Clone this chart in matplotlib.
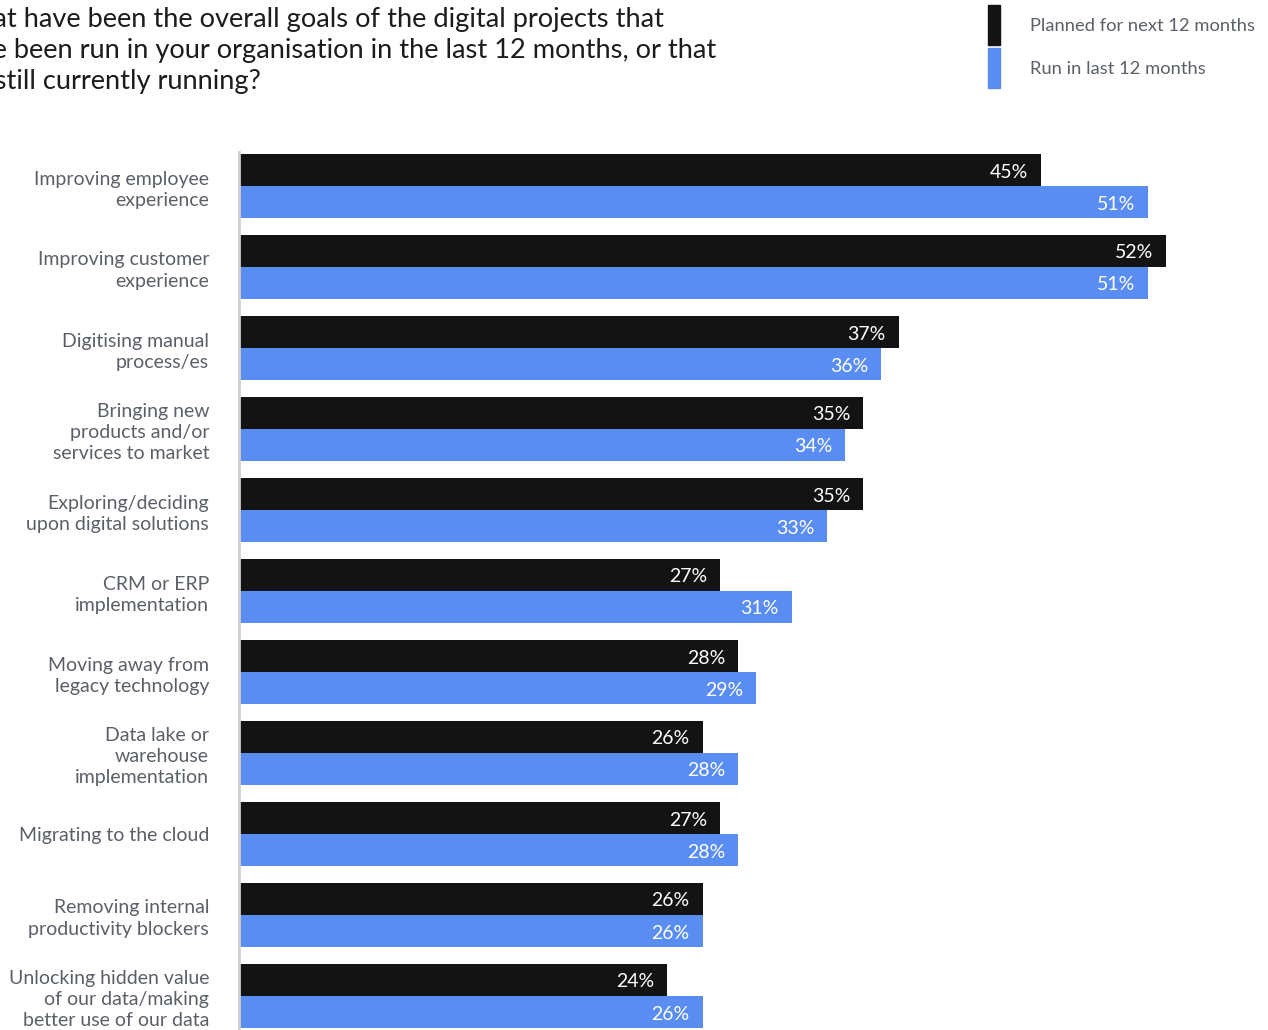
"""
Goals of digital projects: planned vs run, horizontal grouped bars
"""

import matplotlib.pyplot as plt
from matplotlib.patches import Rectangle

goals = [
    "Improving employee\nexperience",
    "Improving customer\nexperience",
    "Digitising manual\nprocess/es",
    "Bringing new\nproducts and/or\nservices to market",
    "Exploring/deciding\nupon digital solutions",
    "CRM or ERP\nimplementation",
    "Moving away from\nlegacy technology",
    "Data lake or\nwarehouse\nimplementation",
    "Migrating to the cloud",
    "Removing internal\nproductivity blockers",
    "Unlocking hidden value\nof our data/making\nbetter use of our data",
]
planned = [45, 52, 37, 35, 35, 27, 28, 26, 27, 26, 24]
run = [51, 51, 36, 34, 33, 31, 29, 28, 28, 26, 26]

series_names = ["Planned for next 12 months", "Run in last 12 months"]

title = (
    "What have been the overall goals of the digital projects that\n"
    "have been run in your organisation in the last 12 months, or that\n"
    "are still currently running?"
)

BLACK = "#141314"
BLUE = "#5a8df2"
LABEL_GREY = "#5b6068"

plt.rcParams["font.family"] = ["Lato", "DejaVu Sans"]

W, H = 1268, 1030
fig = plt.figure(figsize=(W / 100, H / 100), dpi=100)

# axes start at the grey baseline (x=240px) and run off the right edge
ax = fig.add_axes([239 / W, 0, 1 - 239 / W, 1 - 152 / H])
px_per_pct = 17.83
px_per_row = 81.0
bar_h = 32 / px_per_row

ax.set_xlim(0, (W - 239) / px_per_pct)
ax.set_ylim((H - 186) / px_per_row, -(186 - 152) / px_per_row)

ys = list(range(len(goals)))
ax.barh([y - bar_h / 2 for y in ys], planned, height=bar_h, color=BLACK)
ax.barh([y + bar_h / 2 for y in ys], run, height=bar_h, color=BLUE)

pad = 13 / px_per_pct
nudge = 2 / px_per_row
for y, p, r in zip(ys, planned, run):
    ax.text(p - pad, y - bar_h / 2 + nudge, f"{p}%", color="white",
            fontsize=14, ha="right", va="center")
    ax.text(r - pad, y + bar_h / 2 + nudge, f"{r}%", color="white",
            fontsize=14, ha="right", va="center")

ax.set_yticks(ys)
ax.set_yticklabels(goals, fontsize=14, color=LABEL_GREY, linespacing=1.3)
ax.tick_params(axis="y", length=0, pad=21.5)
ax.set_xticks([])

for side in ["top", "right", "bottom"]:
    ax.spines[side].set_visible(False)
ax.spines["left"].set_color("#cfcfcf")
ax.spines["left"].set_linewidth(2)

# title runs off the left edge
fig.text(-50 / W, 1 - 7 / H, title, fontsize=19.6, color="#1c1c1c",
         ha="left", va="top", linespacing=1.3)

# legend swatches
for i, (name, col) in enumerate(zip(series_names, [BLACK, BLUE])):
    top = 5 + i * 43
    fig.add_artist(Rectangle((988 / W, 1 - (top + 40) / H), 12 / W, 40 / H,
                             color=col, transform=fig.transFigure))
    fig.text(1030 / W, 1 - (top + 21) / H, name, fontsize=13.2,
             color=LABEL_GREY, ha="left", va="center")

plt.savefig("out.png", dpi=100)
